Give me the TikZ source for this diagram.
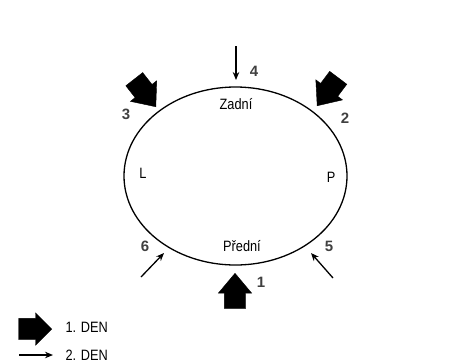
\documentclass[tikz,border=0pt]{standalone}
\usepackage{fontspec}
\setmainfont{Liberation Sans}
\newfontfamily\narrowsans[FakeStretch=0.85]{Liberation Sans}
\usepackage{tikz}
\usetikzlibrary{shapes.geometric, shapes.arrows, arrows.meta}
\tikzstyle{thinarrow} = [line width=1.3pt,-{Stealth[length=8pt,width=6.5pt]}]
\tikzstyle{fatarrow} = [single arrow, fill=black, draw=black, line join=miter, minimum height=35pt, inner xsep=0pt, inner ysep=10.5pt, single arrow head extend=6pt, single arrow tip angle=80, single arrow head indent=0pt, anchor=tip]
\tikzstyle{num} = [font=\fontsize{15}{15}\selectfont\bfseries, text=black!75]
\tikzstyle{side} = [font=\narrowsans\fontsize{15}{15}\selectfont]

\begin{document}
\begin{tikzpicture}[x=1pt,y=-1pt]
	\useasboundingbox (0,0) rectangle (457,362);
	% the field
	\node[ellipse, draw, line width=1.3pt, minimum width=223pt, minimum height=178pt, inner sep=0pt] (field) at (235.5,176) {};

	% texts inside
	\node[side] (back) at (236,104) {Zadní};
	\node[side] (front) at (242,246) {Přední};
	\node[side] (left) at (143,173) {L};
	\node[side] (right) at (331,177) {P};

	% fat arrows
	\node[fatarrow, rotate=90] (one) at (235,273) {};
	\node[fatarrow, rotate=-52] (three) at (156,107) {};
	\node[fatarrow, rotate=-127] (two) at (317,106) {};

	% thin arrows
	\coordinate (fourstart) at (236,46);
	\coordinate (fourend) at (236,80);
	\coordinate (fivestart) at (333,278);
	\coordinate (fiveend) at (311,253);
	\coordinate (sixstart) at (141,277);
	\coordinate (sixend) at (164,253);
	\draw[thinarrow] (fourstart) -- (fourend);
	\draw[thinarrow] (fivestart) -- (fiveend);
	\draw[thinarrow] (sixstart) -- (sixend);

	% numbers
	\node[num] (n1) at (261,282) {1};
	\node[num] (n2) at (345,118) {2};
	\node[num] (n3) at (126,114) {3};
	\node[num] (n4) at (254,71) {4};
	\node[num] (n5) at (329,246) {5};
	\node[num] (n6) at (145,246) {6};

	% legend
	\node[fatarrow, minimum height=33pt, inner ysep=10.5pt, single arrow head extend=5.5pt, single arrow tip angle=90] (legfat) at (52,329) {};
	\node[side, anchor=west] (den1) at (62,327) {1. DEN};
	\coordinate (legstart) at (19,355);
	\coordinate (legend) at (53,355);
	\draw[thinarrow] (legstart) -- (legend);
	\node[side, anchor=west] (den2) at (62,355) {2. DEN};
\end{tikzpicture}
\end{document}
